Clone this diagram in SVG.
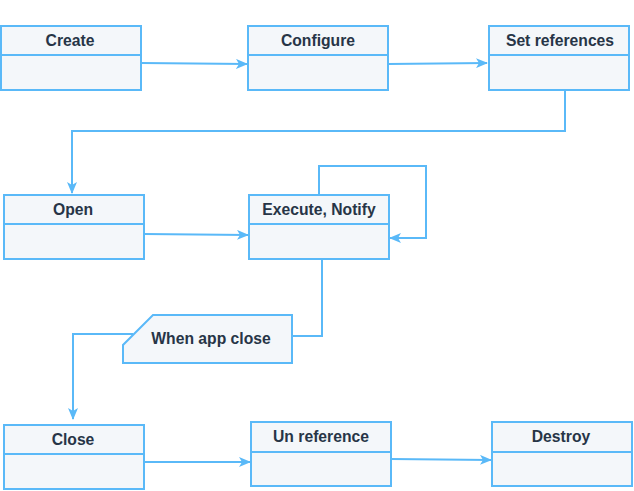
<svg xmlns="http://www.w3.org/2000/svg" width="634" height="491" viewBox="0 0 634 491">
<defs>
<style>
.box{fill:#F4F7FA;stroke:#5AB9F8;stroke-width:2}
.div{stroke:#5AB9F8;stroke-width:2;fill:none}
.lbl{font-family:"Liberation Sans",Arial,sans-serif;font-weight:bold;font-size:15.7px;fill:#273547;text-anchor:middle;dominant-baseline:central}
.edge{fill:none;stroke:#5AB9F8;stroke-width:2}
</style>
<marker id="arr" viewBox="0 0 12 10" refX="11" refY="5" markerWidth="12" markerHeight="10" markerUnits="userSpaceOnUse" orient="auto">
<path d="M0,0 L12,5 L0,10 L3,5 Z" fill="#5AB9F8"/>
</marker>
</defs>
<rect width="634" height="491" fill="#fff"/>
<g id="edges">
<path class="edge" d="M141,63 L247,64" marker-end="url(#arr)"/>
<path class="edge" d="M388,64 L487,63" marker-end="url(#arr)"/>
<path class="edge" d="M565,90 L565,131 L72,131 L72,193" marker-end="url(#arr)"/>
<path class="edge" d="M144,234 L248,235" marker-end="url(#arr)"/>
<path class="edge" d="M319,195 L319,166 L426,166 L426,238 L390,238" marker-end="url(#arr)"/>
<path class="edge" d="M322,259 L322,336 L292,336"/>
<path class="edge" d="M133,334 L73,334 L73,419" marker-end="url(#arr)"/>
<path class="edge" d="M144,462 L250,462" marker-end="url(#arr)"/>
<path class="edge" d="M391,459 L491,460" marker-end="url(#arr)"/>
</g>
<g id="create">
<rect class="box" x="1" y="26" width="140" height="64"/>
<line class="div" x1="1" y1="55" x2="141" y2="55"/>
<text class="lbl" x="70" y="40">Create</text>
</g>
<g id="configure">
<rect class="box" x="248" y="26" width="140" height="64"/>
<line class="div" x1="248" y1="55" x2="388" y2="55"/>
<text class="lbl" x="318" y="40">Configure</text>
</g>
<g id="set-references">
<rect class="box" x="489" y="26" width="140" height="64"/>
<line class="div" x1="489" y1="55" x2="629" y2="55"/>
<text class="lbl" x="560" y="40">Set references</text>
</g>
<g id="open">
<rect class="box" x="4" y="195" width="140" height="64"/>
<line class="div" x1="4" y1="224" x2="144" y2="224"/>
<text class="lbl" x="73" y="209">Open</text>
</g>
<g id="execute">
<rect class="box" x="249" y="195" width="140" height="64"/>
<line class="div" x1="249" y1="224" x2="389" y2="224"/>
<text class="lbl" x="319" y="209">Execute, Notify</text>
</g>
<g id="when-app-close">
<path class="box" d="M153,315 L292,315 L292,363 L123,363 L123,345 Z"/>
<text class="lbl" x="211" y="338">When app close</text>
</g>
<g id="close">
<rect class="box" x="4" y="425" width="140" height="64"/>
<line class="div" x1="4" y1="454" x2="144" y2="454"/>
<text class="lbl" x="73" y="439">Close</text>
</g>
<g id="un-reference">
<rect class="box" x="251" y="422" width="140" height="64"/>
<line class="div" x1="251" y1="452" x2="391" y2="452"/>
<text class="lbl" x="321" y="436">Un reference</text>
</g>
<g id="destroy">
<rect class="box" x="492" y="422" width="140" height="64"/>
<line class="div" x1="492" y1="452" x2="632" y2="452"/>
<text class="lbl" x="561" y="436">Destroy</text>
</g>
</svg>
